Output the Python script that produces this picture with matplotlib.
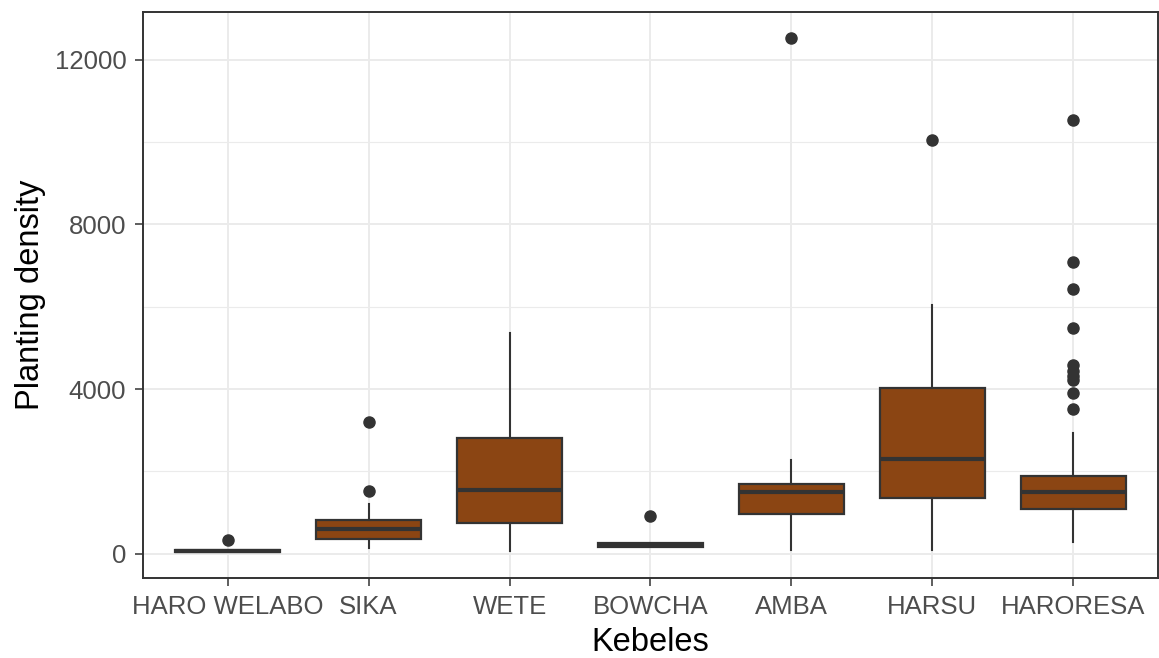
import matplotlib.pyplot as plt

# Kebele names and box statistics
kebeles = ['HARO WELABO', 'SIKA', 'WETE', 'BOWCHA', 'AMBA', 'HARSU', 'HARORESA']
q1 = [40, 356, 742, 160, 968, 1347, 1081]
med = [65, 605, 1548, 210, 1507, 2298, 1492]
q3 = [90, 822, 2822, 260, 1686, 4023, 1887]
whislo = [40, 138, 80, 160, 97, 97, 298]
whishi = [90, 1210, 5370, 260, 2290, 6040, 2935]
outliers = [
    [330],
    [1516, 3193],
    [],
    [919],
    [12530],
    [10040],
    [3507, 3911, 4230, 4330, 4450, 4580, 5474, 6442, 7095, 10523],
]

fill = '#8B4513'
dark = '#333333'

plt.rcParams['font.family'] = ['Liberation Sans', 'DejaVu Sans']

stats = []
for i, name in enumerate(kebeles):
    stats.append({'label': name, 'q1': q1[i], 'med': med[i], 'q3': q3[i],
                  'whislo': whislo[i], 'whishi': whishi[i], 'fliers': outliers[i]})

fig = plt.figure(figsize=(11.59, 6.58), dpi=100)
ax = fig.add_axes([0.1234, 0.1216, 0.8757, 0.8602])

pos = list(range(1, len(kebeles) + 1))
ax.bxp(stats, positions=pos, widths=0.75, patch_artist=True, showcaps=False,
       boxprops=dict(facecolor=fill, edgecolor=dark, linewidth=1.6),
       medianprops=dict(color=dark, linewidth=3),
       whiskerprops=dict(color=dark, linewidth=1.5),
       flierprops=dict(marker='o', markerfacecolor=dark, markeredgecolor=dark,
                       markersize=8, linestyle='none'),
       zorder=3)

ax.set_xlim(0.4, 7.6)
ax.set_ylim(-585, 13155)
ax.set_yticks([0, 4000, 8000, 12000])
ax.set_yticks([2000, 6000, 10000], minor=True)
ax.set_xticks(pos)
ax.set_xticklabels(kebeles)

ax.grid(which='major', color='#EBEBEB', linewidth=1.4, zorder=0)
ax.grid(which='minor', axis='y', color='#EBEBEB', linewidth=0.8, zorder=0)
ax.set_axisbelow(True)

for s in ax.spines.values():
    s.set_color(dark)
    s.set_linewidth(1.4)

ax.tick_params(which='major', length=6, width=1.1, color=dark, labelcolor='#4D4D4D',
               labelsize=18.5, pad=6)
ax.tick_params(which='minor', length=0)

ax.set_xlabel('Kebeles', fontsize=23.5, labelpad=6)
ax.set_ylabel('Planting density', fontsize=23.5, labelpad=6)

plt.savefig('out.png', dpi=100)
